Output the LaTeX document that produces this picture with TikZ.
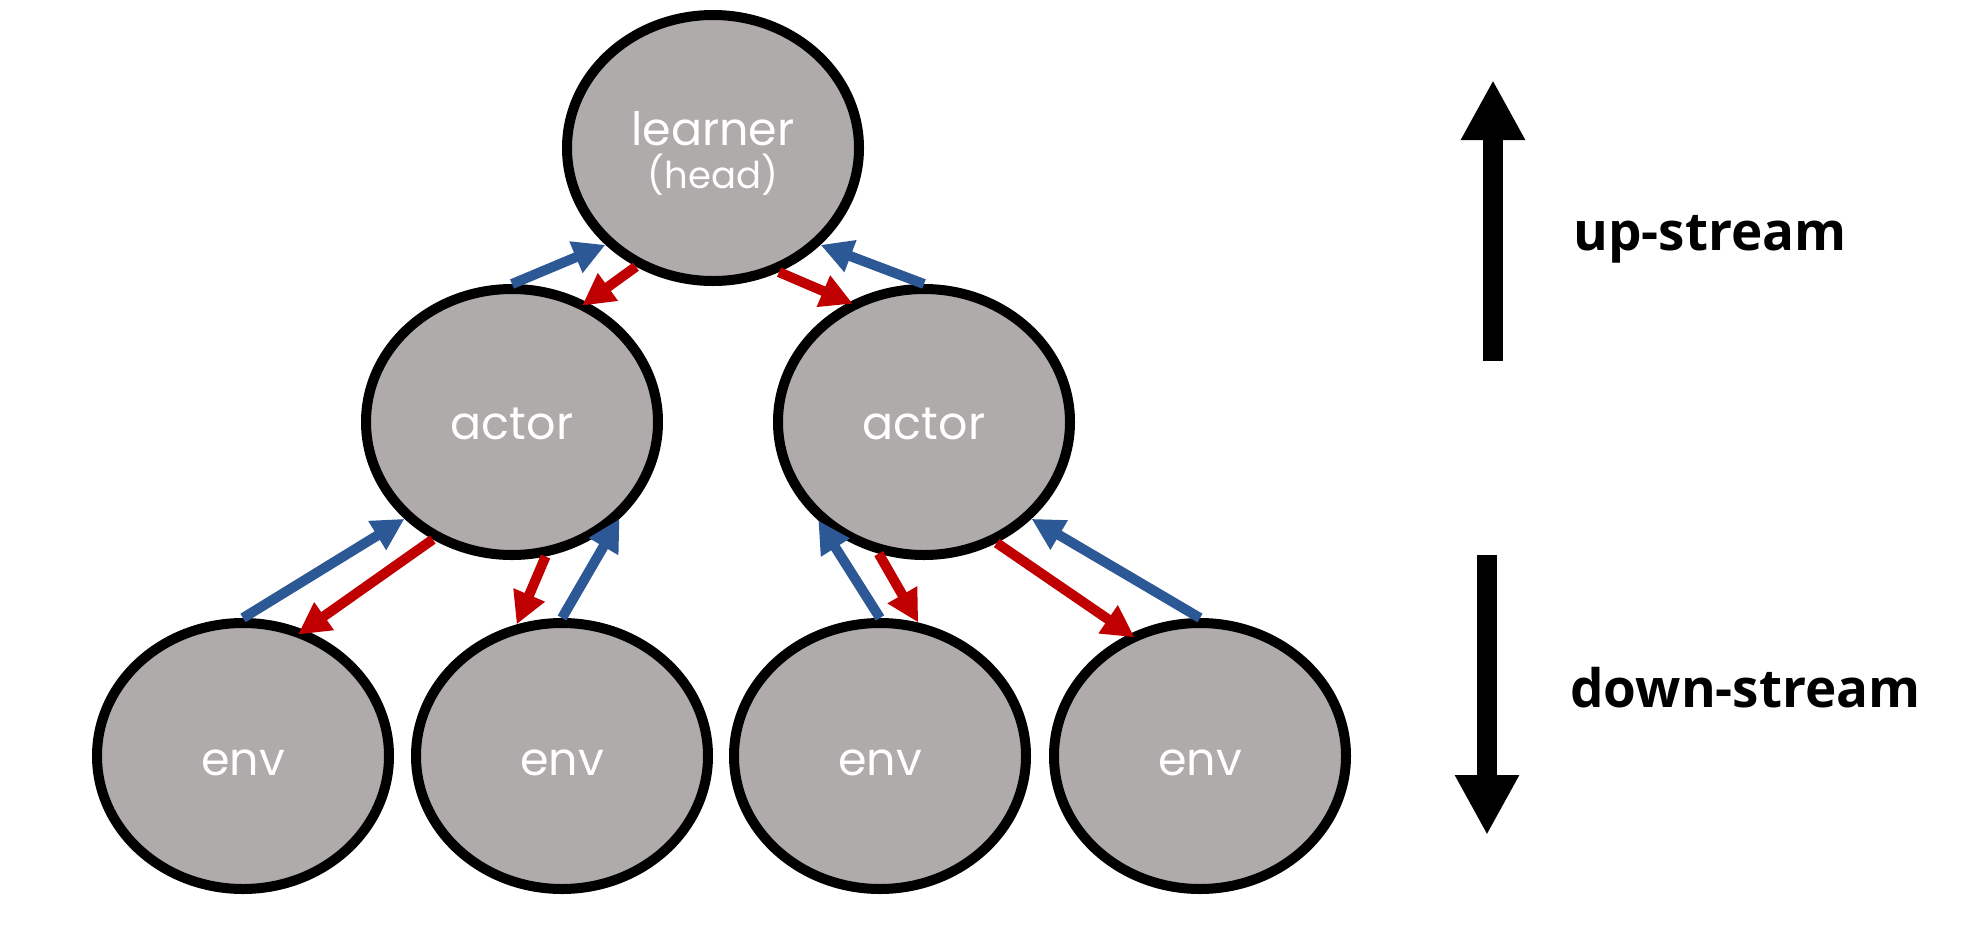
\documentclass[tikz,border=0pt]{standalone}
\usepackage{fontspec}
\usetikzlibrary{arrows.meta,shapes.geometric}
\newfontfamily\nodefont{Poppins}
\newfontfamily\labfont{Open Sans}
\definecolor{ellfill}{RGB}{174,171,170}
\definecolor{upblue}{RGB}{44,88,150}
\definecolor{downred}{RGB}{192,0,0}
\begin{document}
\begin{tikzpicture}[x=0.5pt,y=-0.5pt,
  ell/.style={ellipse, draw=black, line width=5pt, fill=ellfill,
    minimum width=146pt, minimum height=133pt, inner sep=0pt},
  ntext/.style={text=white, anchor=base, inner sep=0pt, font=\nodefont\fontsize{23}{28}\selectfont},
  htext/.style={text=white, anchor=base, inner sep=0pt, font=\nodefont\fontsize{18.5}{22}\selectfont},
  lab/.style={anchor=base west, inner sep=0pt, font=\labfont\bfseries\fontsize{26.5}{32}\selectfont},
  bluearr/.style={draw=upblue, line width=5pt, -{Triangle[length=16pt,width=16pt]}},
  redarr/.style={draw=downred, line width=5pt, -{Triangle[length=16pt,width=16pt]}},
  bigarr/.style={draw=black, line width=10pt, -{Triangle[length=30pt,width=30pt]}}
]
\useasboundingbox (0,0) rectangle (1972,938);
\node[ell] (L) at (713,148) {};
\node[ell] (a1) at (512,422) {};
\node[ell] (a2) at (924,422) {};
\node[ell] (e1) at (243,756) {};
\node[ell] (e2) at (562,756) {};
\node[ell] (e3) at (880,756) {};
\node[ell] (e4) at (1200,756) {};
\node[ntext] (Lt) at (713,145) {learner};
\node[htext] (Lh) at (713,188) {(head)};
\node[ntext] (a1t) at (512,439) {actor};
\node[ntext] (a2t) at (924,439) {actor};
\node[ntext] (e1t) at (243,775) {env};
\node[ntext] (e2t) at (562,775) {env};
\node[ntext] (e3t) at (880,775) {env};
\node[ntext] (e4t) at (1200,775) {env};
% learner <-> actors
\draw[bluearr] (a1.north) -- (L.222);
\draw[redarr, shorten >=-3pt] (L.237) -- (a1.58);
\draw[redarr, shorten >=-2pt] (L.298) -- (a2.122);
\draw[bluearr] (a2.north) -- (L.318);
% left actor <-> envs
\draw[bluearr] (e1.north) -- (a1.222);
\draw[redarr, shorten >=-4pt] (a1.236) -- (e1.64);
\draw[redarr] (a1.284) -- (e2.109);
\draw[bluearr] (e2.north) -- (a1.318);
% right actor <-> envs
\draw[bluearr] (e3.north) -- (a2.223);
\draw[redarr] (a2.251) -- (e3.74);
\draw[redarr, shorten >=-3pt] (a2.301) -- (e4.120);
\draw[bluearr] (e4.north) -- (a2.318);
% legend
\coordinate (u0) at (1493,361);
\coordinate (u1) at (1493,80);
\coordinate (d0) at (1487,555);
\coordinate (d1) at (1487,835);
\draw[bigarr] (u0) -- (u1);
\draw[bigarr] (d0) -- (d1);
\node[lab] (up) at (1573,250) {up-stream};
\node[lab] (down) at (1570,707) {down-stream};
\end{tikzpicture}
\end{document}
